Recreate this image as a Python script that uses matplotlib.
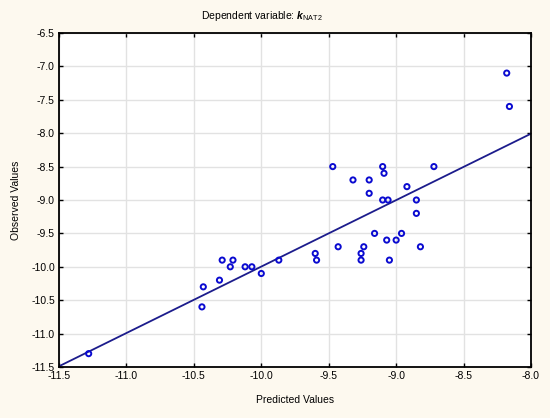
import numpy as np
import matplotlib
matplotlib.use('Agg')
import matplotlib.pyplot as plt

predicted = [-11.28, -10.44, -10.43, -10.31, -10.29, -10.23, -10.21, -10.12,
             -10.07, -10.00, -9.87, -9.60, -9.59, -8.18, -8.16, -9.47,
             -9.10, -8.72, -9.09, -9.32, -9.20, -8.92, -9.20, -9.10,
             -9.06, -8.85, -8.85, -9.16, -8.96, -9.07, -9.00, -9.43,
             -9.24, -8.82, -9.26, -9.26, -9.05]
observed = [-11.3, -10.6, -10.3, -10.2, -9.9, -10.0, -9.9, -10.0,
            -10.0, -10.1, -9.9, -9.8, -9.9, -7.1, -7.6, -8.5,
            -8.5, -8.5, -8.6, -8.7, -8.7, -8.8, -8.9, -9.0,
            -9.0, -9.0, -9.2, -9.5, -9.5, -9.6, -9.6, -9.7,
            -9.7, -9.7, -9.8, -9.9, -9.9]

x_ticks = [-11.5, -11.0, -10.5, -10.0, -9.5, -9.0, -8.5, -8.0]
y_ticks = [-6.5, -7.0, -7.5, -8.0, -8.5, -9.0, -9.5, -10.0, -10.5, -11.0, -11.5]

plt.rcParams['font.family'] = ['Liberation Sans', 'DejaVu Sans']
plt.rcParams['mathtext.fontset'] = 'custom'
plt.rcParams['mathtext.rm'] = 'Liberation Sans'
plt.rcParams['mathtext.it'] = 'Liberation Sans:italic'
plt.rcParams['mathtext.bf'] = 'Liberation Sans:bold:italic'

bg = '#fdf9ef'
fig = plt.figure(figsize=(5.5, 4.18), dpi=100, facecolor=bg)
ax = fig.add_axes([59 / 550, 1 - 367 / 418, (531 - 59) / 550, (367 - 33) / 418])
ax.set_facecolor('white')

# fitted line
slope, intercept = np.polyfit(predicted, observed, 1)
lx = np.array([x_ticks[0], x_ticks[-1]])
ax.plot(lx, slope * lx + intercept, color='#1c1c8c', lw=1.3, zorder=2)

ax.scatter(predicted, observed, s=14, facecolors='none', edgecolors='#0a0ad0',
           linewidths=1.4, zorder=3)

ax.set_xlim(-11.5, -8.0)
ax.set_ylim(-11.5, -6.5)
ax.set_xticks(x_ticks)
ax.set_yticks(y_ticks)
ax.set_xticklabels([f'{v:.1f}' for v in x_ticks])
ax.set_yticklabels([f'{v:.1f}' for v in y_ticks])
ax.grid(True, color='#e2e2e2', lw=1.0)
ax.set_axisbelow(True)
ax.tick_params(direction='in', length=3, width=1, top=True, right=True,
               labelsize=7.5, colors='black', pad=3)
for s in ax.spines.values():
    s.set_linewidth(1.3)
    s.set_color('black')

ax.set_xlabel('Predicted Values', fontsize=7.5, labelpad=10)
ax.set_ylabel('Observed Values', fontsize=7.5, labelpad=7)
fig.text(262 / 550, 1 - 16 / 418, r'Dependent variable: $\mathbf{k}_{\mathrm{NAT2}}$',
         fontsize=7.5, ha='center', va='center')

fig.savefig('out.png', dpi=100, facecolor=bg)
